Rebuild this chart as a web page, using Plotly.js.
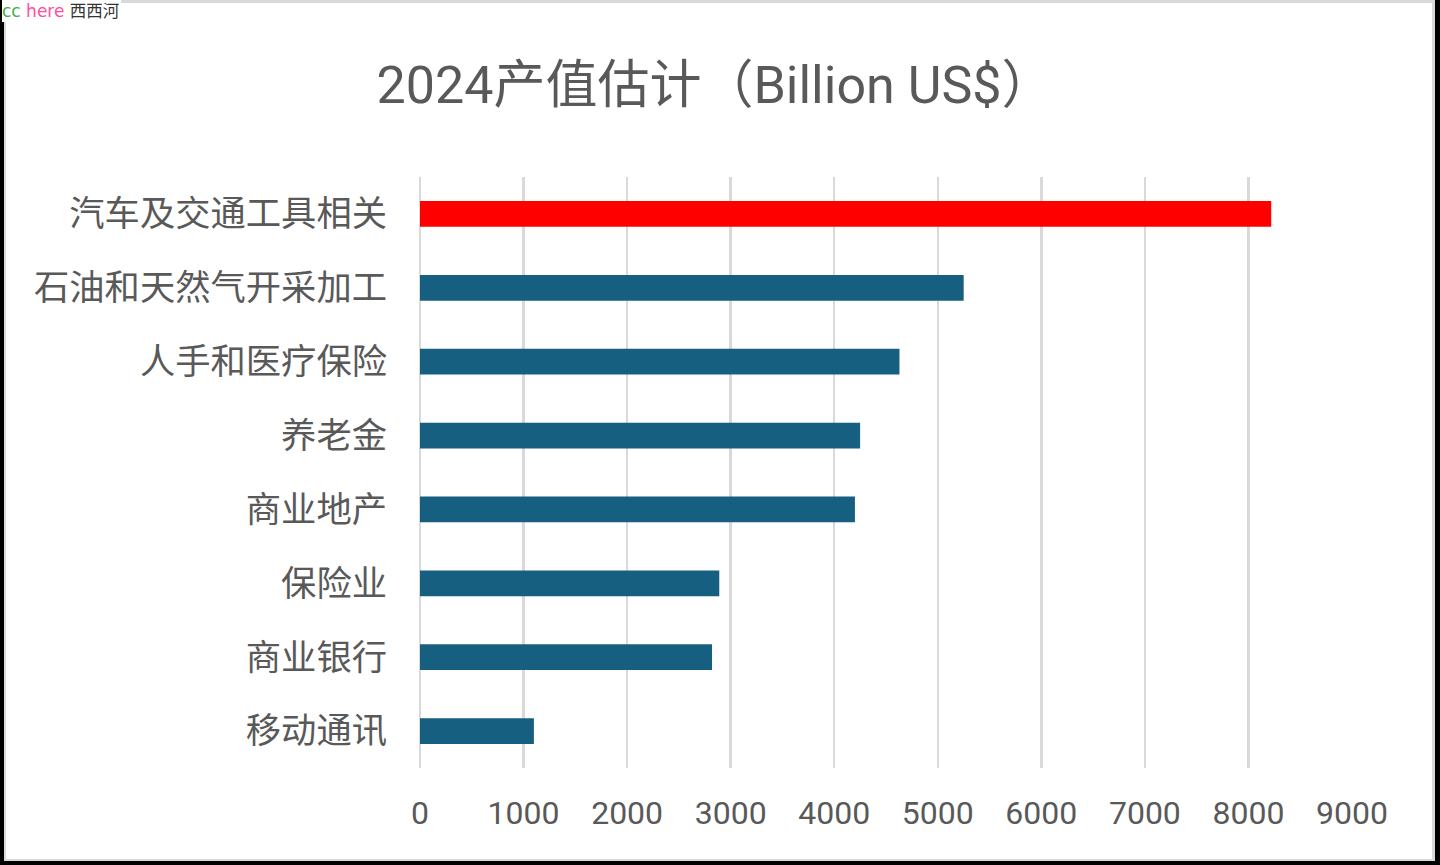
<!DOCTYPE html>
<html>
<head>
<meta charset="utf-8">
<script src="https://cdn.plot.ly/plotly-3.0.1.min.js"></script>
<style>
  html, body { margin:0; padding:0; background:#fff; }
  #chart { position:absolute; left:0; top:0; width:1440px; height:865px; }
  #frameOuter { position:absolute; left:0; top:0; width:1440px; height:865px; box-sizing:border-box;
    border-left:4px solid #000; border-right:5px solid #000; border-bottom:4px solid #000; pointer-events:none; }
  #frameInner { position:absolute; left:4px; top:0; width:1431px; height:861px; box-sizing:border-box;
    border-left:2px solid #d9d9d9; border-right:3px solid #d9d9d9; border-bottom:2px solid #d9d9d9; border-top:3px solid #d9d9d9; pointer-events:none; }
  #wm { position:absolute; left:2px; top:0px; font-family:"DejaVu Sans", sans-serif; font-size:17px; line-height:21px; background:#fff; padding-right:2px; white-space:nowrap; }
  #wm .a { color:#3fae49; }
  #wm .b { color:#ff4f9d; }
  #wm .c { color:#333; font-family:"Noto Sans CJK SC"; font-size:16.5px; }
</style>
</head>
<body>
<div id="chart"></div>
<div id="frameOuter"></div>
<div id="frameInner"></div>
<div id="wm"><span class="a">cc</span><span class="b"> here</span> <span class="c">西西河</span></div>
<script>
const categories = ["汽车及交通工具相关", "石油和天然气开采加工", "人手和医疗保险", "养老金", "商业地产", "保险业", "商业银行", "移动通讯"];
const values = [8220, 5250, 4630, 4250, 4200, 2890, 2820, 1100];
const barColors = ["#ff0000", "#175f80", "#175f80", "#175f80", "#175f80", "#175f80", "#175f80", "#175f80"];
const xTicks = [0, 1000, 2000, 3000, 4000, 5000, 6000, 7000, 8000, 9000];
const titleText = "2024产值估计（Billion US$）";

const fontFam = "Roboto, 'Noto Sans CJK SC', sans-serif";
const trace = {
  type: "bar",
  orientation: "h",
  y: categories,
  x: values,
  marker: { color: barColors, line: { width: 0 } },
  hoverinfo: "x+y"
};
const layout = {
  width: 1440, height: 865,
  paper_bgcolor: "#ffffff", plot_bgcolor: "#ffffff",
  margin: { l: 420, r: 88, t: 177, b: 97 },
  bargap: 0.65,
  showlegend: false,
  title: { text: titleText, x: 715/1440, xref: "container", xanchor: "center", y: 1 - 85/865, yref: "container", yanchor: "middle",
    font: { family: fontFam, size: 52, color: "#595959" } },
  xaxis: {
    range: [0, 9000], tickvals: xTicks, ticktext: xTicks.map(String),
    showgrid: true, gridcolor: "#d9d9d9", gridwidth: 2.5,
    zeroline: true, zerolinecolor: "#d9d9d9", zerolinewidth: 2.5,
    showline: false, ticks: "", ticklabelstandoff: 23,
    tickfont: { family: fontFam, size: 32, color: "#595959" },
    fixedrange: true
  },
  yaxis: {
    autorange: "reversed", showgrid: false, zeroline: false, showline: false, ticks: "",
    ticklabelstandoff: 32,
    tickfont: { family: "'Noto Sans CJK SC', sans-serif", size: 35.3, color: "#595959" },
    fixedrange: true
  }
};
Plotly.newPlot("chart", [trace], layout, { displayModeBar: false, staticPlot: true });
</script>
</body>
</html>
